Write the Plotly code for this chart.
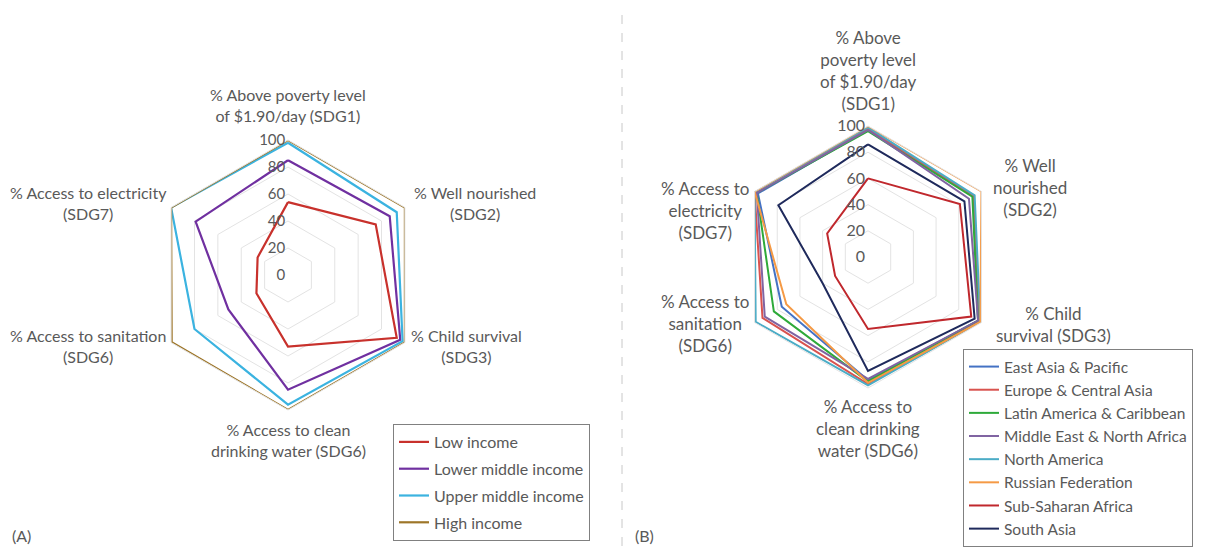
import plotly.graph_objects as go

# ---------------- data ----------------
axes_left = ["% Above poverty level<br>of $1.90/day (SDG1)", "% Well nourished<br>(SDG2)",
             "% Child survival<br>(SDG3)", "% Access to clean<br>drinking water (SDG6)",
             "% Access to sanitation<br>(SDG6)", "% Access to electricity<br>(SDG7)"]
axes_right = ["% Above<br>poverty level<br>of $1.90/day<br>(SDG1)", "% Well<br>nourished<br>(SDG2)",
              "% Child<br>survival (SDG3)", "% Access to<br>clean drinking<br>water (SDG6)",
              "% Access to<br>sanitation<br>(SDG6)", "% Access to<br>electricity<br>(SDG7)"]
cats = ["SDG1", "SDG2", "SDG3", "SDG6w", "SDG6s", "SDG7"]
radial_ticks = [0, 20, 40, 60, 80, 100]

income_names = ["Low income", "Lower middle income", "Upper middle income", "High income"]
low_income = [54, 75, 93, 53, 27, 26]
lower_middle_income = [85, 87, 96, 85, 51, 79]
upper_middle_income = [98, 93, 98, 96, 80, 100]
high_income = [100, 100, 100, 100, 99.5, 100]
income_values = [low_income, lower_middle_income, upper_middle_income, high_income]
income_colors = ["#C8312C", "#7030A0", "#3BB3E0", "#9E7629"]

region_names = ["East Asia & Pacific", "Europe & Central Asia", "Latin America & Caribbean",
                "Middle East & North Africa", "North America", "Russian Federation",
                "Sub-Saharan Africa", "South Asia"]
east_asia_pacific = [97, 93, 97, 94, 76, 97]
europe_central_asia = [98, 93, 98, 97, 93, 100]
latin_america_caribbean = [96, 92, 97, 95, 83, 98]
middle_east_north_africa = [97, 89, 97, 93, 91, 98]
north_america = [99, 94, 99, 98, 99, 100]
russian_federation = [100, 100, 99, 96, 72, 100]
sub_saharan_africa = [60, 81, 91, 55, 29, 36]
south_asia = [86, 85, 94, 87, 40, 79]
region_values = [east_asia_pacific, europe_central_asia, latin_america_caribbean,
                 middle_east_north_africa, north_america, russian_federation,
                 sub_saharan_africa, south_asia]
region_colors = ["#4472C4", "#D9534F", "#2EAA3A", "#8064A2", "#4BACC6", "#F59A45", "#C0282D", "#1F2A5C"]

TXT = "#595959"
FONT = "Lato"

fig = go.Figure()

for name, vals, col in zip(income_names, income_values, income_colors):
    fig.add_trace(go.Scatterpolar(r=vals + vals[:1], theta=cats + cats[:1], mode="lines",
                                  name=name, line=dict(color=col, width=2.2),
                                  subplot="polar", legend="legend", legendgroup=name))
for name, vals, col in zip(region_names, region_values, region_colors):
    fig.add_trace(go.Scatterpolar(r=vals + vals[:1], theta=cats + cats[:1], mode="lines",
                                  name=name, line=dict(color=col, width=2),
                                  subplot="polar2", legend="legend2", legendgroup=name))

# page has an 8px body margin: work in screen pixels and convert
OFF = 8
W, H = 1209 - OFF, 550 - OFF


def px(X):
    return (X - OFF) / W


def py(Y):
    return 1 - (Y - OFF) / H


def dom(cx, cy, R):
    return dict(x=[px(cx - R), px(cx + R)], y=[py(cy + R), py(cy - R)])


def polar_cfg(cx, cy, R, fs):
    return dict(
        domain=dom(cx, cy, R), gridshape="linear", bgcolor="white",
        radialaxis=dict(range=[0, 100], tickvals=radial_ticks, showline=False, gridcolor="#e3e3e3",
                        angle=90, tickangle=90, side="counterclockwise", ticks="",
                        ticksuffix='<span style="color:rgba(0,0,0,0)">00</span>',
                        tickfont=dict(size=fs, color=TXT, family=FONT)),
        angularaxis=dict(rotation=90, direction="clockwise", categoryorder="array", categoryarray=cats,
                         showticklabels=False, showgrid=False, showline=True, linecolor="#e3e3e3",
                         ticks=""),
    )


annotations = []
left_pos = [(288, 105), (475, 203), (466, 346), (288, 440), (88, 346), (88, 203)]
for txt, (x, y) in zip(axes_left, left_pos):
    annotations.append(dict(text=txt, x=px(x), y=py(y), xref="paper", yref="paper", showarrow=False,
                            xanchor="center", yanchor="middle", align="center",
                            font=dict(size=16, color=TXT, family=FONT)))
right_pos = [(868, 70), (1030, 188), (1053, 324), (868, 428), (705, 323), (705, 211)]
for txt, (x, y) in zip(axes_right, right_pos):
    annotations.append(dict(text=txt, x=px(x), y=py(y), xref="paper", yref="paper", showarrow=False,
                            xanchor="center", yanchor="middle", align="center",
                            font=dict(size=17, color=TXT, family=FONT)))
annotations.append(dict(text="(A)", x=px(10), y=py(535), xref="paper", yref="paper", showarrow=False,
                        xanchor="left", yanchor="middle", font=dict(size=16, color=TXT, family=FONT)))
annotations.append(dict(text="(B)", x=px(633), y=py(535), xref="paper", yref="paper", showarrow=False,
                        xanchor="left", yanchor="middle", font=dict(size=16, color=TXT, family=FONT)))

fig.update_layout(
    width=W, height=H, margin=dict(l=0, r=0, t=0, b=0, autoexpand=False),
    paper_bgcolor="white", plot_bgcolor="white",
    polar=polar_cfg(288, 275, 135, 15),
    polar2=polar_cfg(868, 257, 131, 16),
    legend=dict(x=px(393), y=py(541), xanchor="left", yanchor="bottom", bordercolor="#808080",
                borderwidth=1, font=dict(size=16, color=TXT, family=FONT), tracegroupgap=3,
                itemwidth=30, bgcolor="white"),
    legend2=dict(x=px(963), y=py(547), xanchor="left", yanchor="bottom", bordercolor="#808080",
                 borderwidth=1, font=dict(size=15.5, color=TXT, family=FONT), tracegroupgap=0,
                 itemwidth=30, bgcolor="white"),
    annotations=annotations,
    shapes=[dict(type="line", xref="paper", yref="paper", x0=px(622), x1=px(622), y0=py(546), y1=py(8),
                 line=dict(color="#C8C8C8", width=1, dash="dash"))],
)

fig.write_html("out.html")
